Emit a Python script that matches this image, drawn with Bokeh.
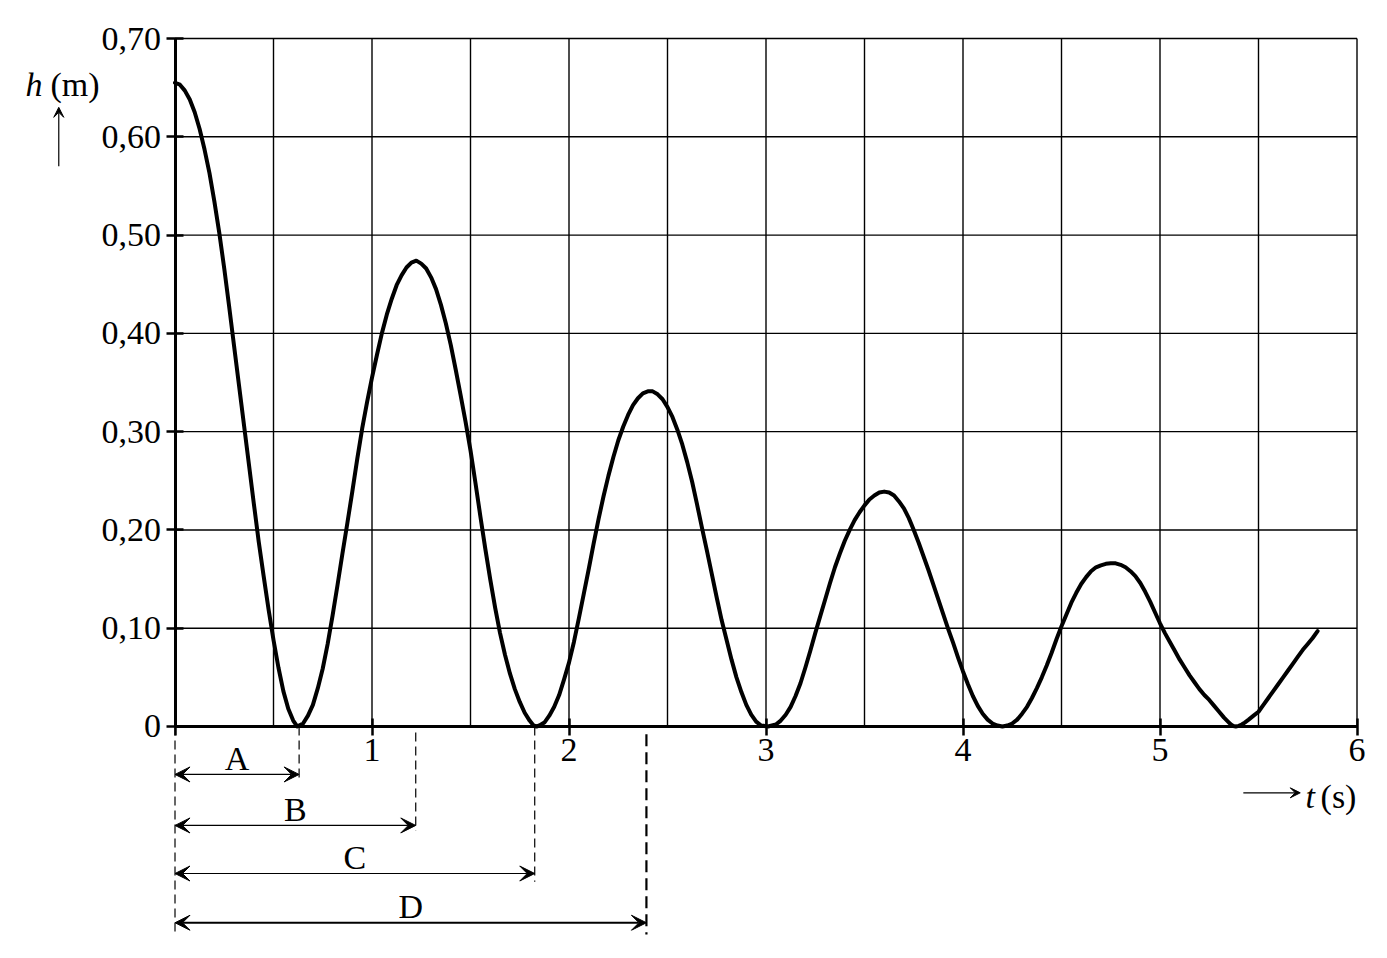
from bokeh.plotting import figure
from bokeh.models import (Range1d, LinearAxis, FixedTicker, CustomJSTickFormatter,
                          Arrow, VeeHead)
from bokeh.core.properties import value
from bokeh.embed import file_html
from bokeh.resources import INLINE

# curve: time (s) and height (m)
t_s = [0.000, 0.025, 0.050, 0.075, 0.100, 0.125, 0.150, 0.175, 0.200, 0.225,
       0.250, 0.275, 0.300, 0.325, 0.350, 0.375, 0.400, 0.425, 0.450, 0.475,
       0.500, 0.525, 0.550, 0.575, 0.600, 0.620,
       0.650, 0.675, 0.700, 0.725, 0.750, 0.775, 0.800, 0.825, 0.850, 0.875,
       0.900, 0.925, 0.950, 0.975, 1.000, 1.025, 1.050, 1.075, 1.100, 1.125,
       1.150, 1.175, 1.200, 1.225, 1.250, 1.275, 1.300, 1.325, 1.350, 1.375,
       1.400, 1.425, 1.450, 1.475, 1.500, 1.525, 1.550, 1.575, 1.600, 1.625,
       1.650, 1.675, 1.700, 1.725, 1.750, 1.775, 1.800, 1.820, 1.835,
       1.850, 1.875, 1.900, 1.925, 1.950, 1.975, 2.000, 2.025, 2.050, 2.075,
       2.100, 2.125, 2.150, 2.175, 2.200, 2.225, 2.250, 2.275, 2.300, 2.325,
       2.350, 2.375, 2.400, 2.425, 2.450, 2.475, 2.500, 2.525, 2.550, 2.575,
       2.600, 2.625, 2.650, 2.675, 2.700, 2.725, 2.750, 2.775, 2.800, 2.825,
       2.850, 2.875, 2.900, 2.925, 2.950, 2.975, 3.010,
       3.050, 3.075, 3.100, 3.125, 3.150, 3.175, 3.200, 3.225, 3.250, 3.275,
       3.300, 3.325, 3.350, 3.375, 3.400, 3.425, 3.450, 3.475, 3.500, 3.525,
       3.550, 3.575, 3.600, 3.625, 3.650, 3.675, 3.700, 3.725, 3.750, 3.775,
       3.800, 3.825, 3.850, 3.875, 3.900, 3.925, 3.950, 3.975, 4.000, 4.025,
       4.050, 4.075, 4.100, 4.125, 4.150, 4.175, 4.200,
       4.225, 4.250, 4.275, 4.300, 4.325, 4.350, 4.375, 4.400, 4.425, 4.450,
       4.475, 4.500, 4.525, 4.550, 4.575, 4.600, 4.625, 4.650, 4.675, 4.700,
       4.725, 4.750, 4.775, 4.800, 4.825, 4.850, 4.875, 4.900, 4.925, 4.950,
       4.975, 5.000, 5.025, 5.050, 5.075, 5.100, 5.125, 5.150, 5.175, 5.200,
       5.225, 5.250, 5.275, 5.300, 5.325, 5.345, 5.360, 5.372, 5.385,
       5.400, 5.415, 5.430, 5.450, 5.475, 5.500, 5.525, 5.550, 5.575, 5.600,
       5.625, 5.650, 5.675, 5.700, 5.725, 5.750, 5.775, 5.800]
h_m = [0.655, 0.653, 0.647, 0.638, 0.625, 0.608, 0.587, 0.563, 0.534, 0.502,
       0.466, 0.427, 0.387, 0.347, 0.307, 0.267, 0.227, 0.188, 0.153, 0.119,
       0.088, 0.060, 0.036, 0.018, 0.006, 0.000,
       0.003, 0.011, 0.022, 0.039, 0.059, 0.084, 0.113, 0.144, 0.176, 0.207,
       0.239, 0.272, 0.303, 0.330, 0.355, 0.378, 0.400, 0.419, 0.435, 0.449,
       0.459, 0.467, 0.472, 0.474, 0.471, 0.466, 0.457, 0.445, 0.429, 0.410,
       0.388, 0.363, 0.337, 0.310, 0.281, 0.248, 0.214, 0.181, 0.150, 0.121,
       0.095, 0.073, 0.054, 0.038, 0.025, 0.014, 0.006, 0.001, 0.000,
       0.001, 0.004, 0.011, 0.020, 0.032, 0.048, 0.065, 0.086, 0.110, 0.135,
       0.160, 0.186, 0.211, 0.234, 0.255, 0.274, 0.291, 0.305, 0.317, 0.327,
       0.334, 0.339, 0.341, 0.341, 0.338, 0.333, 0.325, 0.315, 0.302, 0.287,
       0.269, 0.249, 0.226, 0.202, 0.179, 0.155, 0.131, 0.108, 0.088, 0.068,
       0.050, 0.035, 0.022, 0.012, 0.005, 0.001, 0.000,
       0.002, 0.006, 0.012, 0.020, 0.031, 0.044, 0.060, 0.077, 0.095, 0.112,
       0.129, 0.146, 0.162, 0.176, 0.189, 0.200, 0.210, 0.218, 0.225, 0.231,
       0.235, 0.238, 0.239, 0.238, 0.235, 0.229, 0.222, 0.212, 0.200, 0.187,
       0.173, 0.159, 0.144, 0.129, 0.114, 0.099, 0.085, 0.070, 0.056, 0.043,
       0.031, 0.021, 0.013, 0.007, 0.003, 0.001, 0.000,
       0.001, 0.003, 0.007, 0.013, 0.020, 0.029, 0.039, 0.050, 0.062, 0.075,
       0.089, 0.102, 0.114, 0.126, 0.136, 0.145, 0.152, 0.158, 0.162, 0.164,
       0.1655, 0.166, 0.166, 0.1645, 0.162, 0.158, 0.153, 0.146, 0.137, 0.127,
       0.116, 0.105, 0.095, 0.086, 0.077, 0.068, 0.060, 0.052, 0.045, 0.038,
       0.032, 0.027, 0.021, 0.015, 0.009, 0.005, 0.002, 0.0005, 0.000,
       0.0006, 0.002, 0.004, 0.007, 0.011, 0.015, 0.022, 0.029, 0.036, 0.043,
       0.050, 0.057, 0.064, 0.071, 0.078, 0.084, 0.090, 0.097]

x_ticks = [0, 1, 2, 3, 4, 5, 6]
y_ticks = [0, 0.1, 0.2, 0.3, 0.4, 0.5, 0.6, 0.7]
x_grid = [0.5, 1.0, 1.5, 2.0, 2.5, 3.0, 3.5, 4.0, 4.5, 5.0, 5.5, 6.0]
y_grid = [0.1, 0.2, 0.3, 0.4, 0.5, 0.6, 0.7]

# the four marked intervals, all starting at t = 0
dim_labels = ["A", "B", "C", "D"]
dim_ends = [0.630, 1.222, 1.826, 2.393]

FONT = value("Liberation Serif")
FS = "34px"

p = figure(width=1371, height=942,
           x_range=Range1d(-0.8858, 6.0736), y_range=Range1d(-0.2198, 0.7387),
           x_axis_type=None, y_axis_type=None,
           output_backend="svg", toolbar_location=None,
           min_border=0, outline_line_color=None)

# grid, only inside 0..6 x 0..0.70
p.segment(x0=x_grid, y0=0, x1=x_grid, y1=0.7, line_color="black", line_width=1.4)
p.segment(x0=0, y0=y_grid, x1=6, y1=y_grid, line_color="black", line_width=1.4)

def style_axis(ax):
    ax.axis_line_width = 3
    ax.axis_line_color = "black"
    ax.major_tick_line_width = 2.5
    ax.major_tick_line_color = "black"
    ax.major_tick_in = 8
    ax.major_tick_out = 9
    ax.major_label_text_font = "Liberation Serif"
    ax.major_label_text_font_size = FS
    ax.major_label_text_color = "black"

xaxis = LinearAxis(fixed_location=0, bounds=(0, 6), ticker=FixedTicker(ticks=x_ticks),
                   formatter=CustomJSTickFormatter(code="return tick == 0 ? '' : tick.toFixed(0);"))
style_axis(xaxis)
xaxis.major_label_standoff = 4
p.add_layout(xaxis, "below")

yaxis = LinearAxis(fixed_location=0, bounds=(0, 0.7), ticker=FixedTicker(ticks=y_ticks),
                   formatter=CustomJSTickFormatter(
                       code="return tick == 0 ? '0' : tick.toFixed(2).replace('.', ',');"))
style_axis(yaxis)
yaxis.major_label_standoff = 5
p.add_layout(yaxis, "left")

# the curve
p.line(t_s, h_m, line_color="black", line_width=4, line_join="round", line_cap="round")

# dashed reference lines under the time axis
row_y = [-0.0488, -0.1007, -0.1496, -0.1997]
p.segment(x0=[0], y0=[0], x1=[0], y1=[-0.2116], line_color="black",
          line_width=1.2, line_dash="9 5")
p.segment(x0=dim_ends[:3], y0=[0, -0.006, 0], x1=dim_ends[:3],
          y1=[-0.057, -0.106, -0.158], line_color="black", line_width=1.2, line_dash="9 5")
p.segment(x0=[dim_ends[3]], y0=[-0.008], x1=[dim_ends[3]], y1=[-0.2116],
          line_color="black", line_width=2.2, line_dash="12 6")

for i, end in enumerate(dim_ends):
    wide = i == 3
    p.add_layout(Arrow(x_start=0, y_start=row_y[i], x_end=end, y_end=row_y[i],
                       line_color="black", line_width=2.2 if wide else 1.2,
                       start=VeeHead(size=15, fill_color="black", line_color="black",
                                     line_width=1),
                       end=VeeHead(size=15, fill_color="black", line_color="black",
                                   line_width=1)))

p.text(x=[e / 2 for e in dim_ends], y=[y + 0.0165 for y in row_y], text=dim_labels,
       text_font=FONT, text_font_size=FS, text_align="center",
       text_baseline="middle", text_color="black")

# axis titles
p.text(x=[-0.759], y=[0.6532], text=["h"], text_font=FONT, text_font_size=FS,
       text_font_style="italic", text_baseline="middle", text_color="black")
p.text(x=[-0.632], y=[0.6532], text=["(m)"], text_font=FONT, text_font_size=FS,
       text_baseline="middle", text_color="black")
p.add_layout(Arrow(x_start=-0.590, y_start=0.570, x_end=-0.590, y_end=0.630,
                   line_color="black", line_width=1.2,
                   end=VeeHead(size=10, fill_color="black", line_color="black")))

p.text(x=[5.738], y=[-0.0709], text=["t"], text_font=FONT, text_font_size=FS,
       text_font_style="italic", text_baseline="middle", text_color="black")
p.text(x=[5.815], y=[-0.0709], text=["(s)"], text_font=FONT, text_font_size=FS,
       text_baseline="middle", text_color="black")
p.add_layout(Arrow(x_start=5.423, y_start=-0.0675, x_end=5.712, y_end=-0.0675,
                   line_color="black", line_width=1.2,
                   end=VeeHead(size=10, fill_color="black", line_color="black")))

open("out.html", "w").write(file_html(p, INLINE))
